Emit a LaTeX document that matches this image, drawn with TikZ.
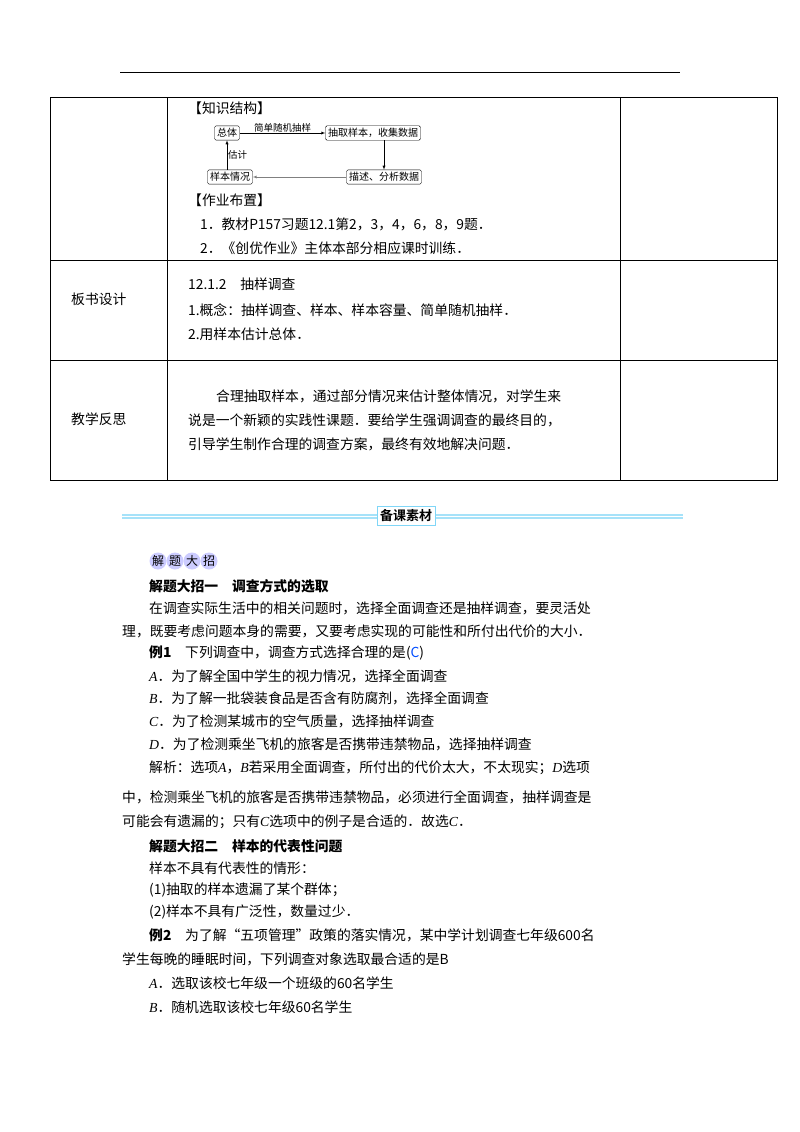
\documentclass[tikz,border=0pt]{standalone}
\usepackage{fontspec}
\setmainfont{Liberation Serif}
\newfontfamily\cjk{Noto Sans CJK SC}
\newfontfamily\cjkb{Noto Sans CJK SC Bold}
\newcommand{\vi}[1]{{\rmfamily\itshape #1}}
\begin{document}
\begin{tikzpicture}[x=1pt,y=-1pt,
  txt/.style={anchor=west,inner sep=0pt,font=\fontsize{13.8}{16}\selectfont\cjk},
  bt/.style={anchor=west,inner sep=0pt,font=\fontsize{13.8}{16}\selectfont\cjk\bfseries},
  fbox/.style={draw,rounded corners=1.5pt,inner sep=2.5pt,font=\fontsize{10}{11}\selectfont\cjk},
  arr/.style={-latex,thin},
  lbl/.style={font=\fontsize{9.5}{10}\selectfont\cjk,inner sep=1pt}]
\useasboundingbox (0,0) rectangle (800,1132);
\draw (120,72) -- (680,72);
% table
\draw (50,97) rectangle (777,480);
\foreach \y in {260,360} \draw (50,\y) -- (777,\y);
\foreach \x in {167,620} \draw (\x,97) -- (\x,480);
\node[txt] (t1) at (188,108) {【知识结构】};
\node[fbox] (zt) at (227,133) {总体};
\node[fbox] (cq) at (373,133) {抽取样本，收集数据};
\node[fbox] (ms) at (384,177) {描述、分析数据};
\node[fbox] (yb) at (230,177) {样本情况};
\draw[arr] (zt) -- node[lbl,above]{简单随机抽样} (cq);
\draw[arr] (cq.south -| ms.north) -- (ms.north);
\draw[arr,gray] (ms) -- (yb);
\draw[arr] (yb.north -| zt.south) -- node[lbl,right]{估计} (zt.south);
\node[txt] at (188,200) {【作业布置】};
\node[txt] at (200,224) {1．教材P157习题12.1第2，3，4，6，8，9题．};
\node[txt] at (200,248) {2．《创优作业》主体本部分相应课时训练．};
\node[txt] at (71,299) {板书设计};
\node[txt] at (188,284) {12.1.2\quad 抽样调查};
\node[txt] at (188,310) {1.概念：抽样调查、样本、样本容量、简单随机抽样．};
\node[txt] at (188,334) {2.用样本估计总体．};
\node[txt] at (71,419) {教学反思};
\node[txt] at (216,396) {合理抽取样本，通过部分情况来估计整体情况，对学生来};
\node[txt] at (188,420) {说是一个新颖的实践性课题．要给学生强调调查的最终目的，};
\node[txt] at (188,444) {引导学生制作合理的调查方案，最终有效地解决问题．};
% banner
\fill[cyan!35] (122,514) rectangle (683,519);
\draw[white,line width=0.6pt] (122,516.5) -- (683,516.5);
\node[draw=cyan!50,fill=white,line width=1pt,inner sep=3pt,font=\fontsize{13}{15}\selectfont\cjkb] (bk) at (406,516) {备课素材};
% badge
\foreach \i/\c in {0/解,1/题,2/大,3/招}{
  \fill[blue!20] (158+\i*17,561) circle (8.5);
  \node[font=\fontsize{12}{14}\selectfont\cjk] at (158+\i*17,561) {\c};}
\node[bt] at (149,586) {解题大招一\quad 调查方式的选取};
\node[txt] at (149,608) {在调查实际生活中的相关问题时，选择全面调查还是抽样调查，要灵活处};
\node[txt] at (122,631) {理，既要考虑问题本身的需要，又要考虑实现的可能性和所付出代价的大小．};
\node[txt] at (149,653) {\textbf{例1}\quad 下列调查中，调查方式选择合理的是(\textcolor{blue!70!cyan}{C})};
\node[txt] at (149,676) {\vi{A}．为了解全国中学生的视力情况，选择全面调查};
\node[txt] at (149,698) {\vi{B}．为了解一批袋装食品是否含有防腐剂，选择全面调查};
\node[txt] at (149,721) {\vi{C}．为了检测某城市的空气质量，选择抽样调查};
\node[txt] at (149,744) {\vi{D}．为了检测乘坐飞机的旅客是否携带违禁物品，选择抽样调查};
\node[txt] at (149,768) {解析：选项\vi{A}，\vi{B}若采用全面调查，所付出的代价太大，不太现实；\vi{D}选项};
\node[txt] at (122,797) {中，检测乘坐飞机的旅客是否携带违禁物品，必须进行全面调查，抽样调查是};
\node[txt] at (122,822) {可能会有遗漏的；只有\vi{C}选项中的例子是合适的．故选\vi{C}．};
\node[bt] at (149,846) {解题大招二\quad 样本的代表性问题};
\node[txt] at (149,868) {样本不具有代表性的情形：};
\node[txt] at (149,890) {(1)抽取的样本遗漏了某个群体；};
\node[txt] at (149,912) {(2)样本不具有广泛性，数量过少．};
\node[txt] at (149,935) {\textbf{例2}\quad 为了解“五项管理”政策的落实情况，某中学计划调查七年级600名};
\node[txt] at (122,959) {学生每晚的睡眠时间，下列调查对象选取最合适的是B};
\node[txt] at (149,983) {\vi{A}．选取该校七年级一个班级的60名学生};
\node[txt] at (149,1007) {\vi{B}．随机选取该校七年级60名学生};
\end{tikzpicture}
\end{document}
